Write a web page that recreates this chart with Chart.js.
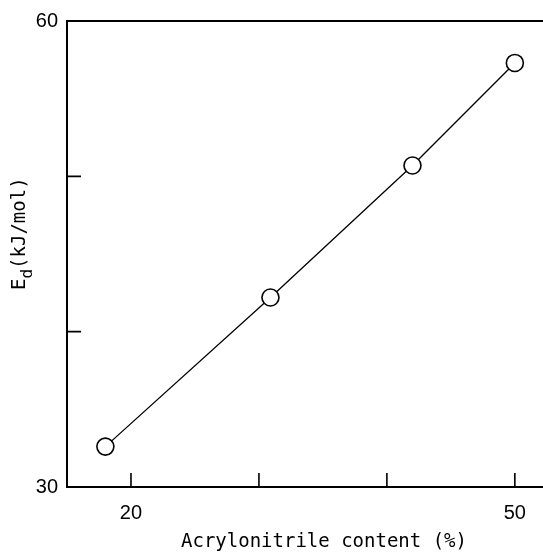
<!DOCTYPE html>
<html>
<head>
<meta charset="utf-8">
<script src="https://cdn.jsdelivr.net/npm/chart.js@4/dist/chart.umd.min.js"></script>
<style>
html,body{margin:0;padding:0;background:#fff;}
#wrap{width:543px;height:554px;}
</style>
</head>
<body>
<div id="wrap"><canvas id="c" width="543" height="554"></canvas></div>
<script>
// Data
const acrylonitrile = [18.0, 30.9, 42.0, 50.0];      // x: Acrylonitrile content (%)
const activationEnergy = [32.6, 42.2, 50.7, 57.3];    // y: Ed (kJ/mol)
const xTickValues = [20, 30, 40, 50];
const xTickLabels = [20, 50];
const yTickValues = [30, 40, 50, 60];
const yTickLabels = [30, 60];
const xTitle = 'Acrylonitrile content (%)';
const yTitleMain = 'E';
const yTitleSub = 'd';
const yTitleUnit = '(kJ/mol)';

const points = acrylonitrile.map((v, i) => ({x: v, y: activationEnergy[i]}));
const MONO = '"DejaVu Sans Mono", "Liberation Mono", monospace';

const frame = {
  id: 'frame',
  afterDraw(chart) {
    const {ctx, chartArea: a, scales: {x, y}} = chart;
    ctx.save();
    ctx.strokeStyle = '#000';
    ctx.lineWidth = 1.6;
    ctx.beginPath();
    xTickValues.forEach(v => {
      const px = x.getPixelForValue(v);
      ctx.moveTo(px, a.bottom);
      ctx.lineTo(px, a.bottom - 14);
    });
    yTickValues.forEach(v => {
      const py = y.getPixelForValue(v);
      ctx.moveTo(a.left, py);
      ctx.lineTo(a.left + 14, py);
    });
    ctx.stroke();
    ctx.lineWidth = 2;
    ctx.beginPath();
    ctx.moveTo(a.left - 1, a.top);
    ctx.lineTo(a.right, a.top);
    ctx.stroke();

    ctx.fillStyle = '#000';
    // x axis title
    ctx.font = '19px ' + MONO;
    ctx.textAlign = 'center';
    ctx.textBaseline = 'middle';
    ctx.fillText(xTitle, 324, 542);

    // y axis title with subscript
    ctx.translate(25, 290);
    ctx.rotate(-Math.PI / 2);
    ctx.textAlign = 'left';
    ctx.textBaseline = 'alphabetic';
    const big = '19px ' + MONO;
    const small = '16px ' + MONO;
    let xs = 0;
    ctx.font = big;
    ctx.fillText(yTitleMain, xs, 0);
    xs += ctx.measureText(yTitleMain).width;
    ctx.font = small;
    ctx.fillText(yTitleSub, xs, 7);
    xs += ctx.measureText(yTitleSub).width;
    ctx.font = big;
    ctx.fillText(yTitleUnit, xs, 0);
    ctx.restore();
  }
};

new Chart(document.getElementById('c'), {
  type: 'scatter',
  data: {
    datasets: [{
      data: points,
      showLine: true,
      borderColor: '#000',
      borderWidth: 1.3,
      pointRadius: 8.5,
      pointHoverRadius: 8.5,
      pointBackgroundColor: '#fff',
      pointBorderColor: '#000',
      pointBorderWidth: 1.6
    }]
  },
  options: {
    responsive: false,
    animation: false,
    events: [],
    layout: {autoPadding: false, padding: {top: 18, right: 0, left: 0, bottom: 0}},
    plugins: {legend: {display: false}, tooltip: {enabled: false}},
    scales: {
      x: {
        type: 'linear',
        min: 15,
        max: 52.2,
        afterBuildTicks: s => { s.ticks = xTickValues.map(v => ({value: v})); },
        afterFit: s => { s.height = 67; },
        grid: {display: false, drawTicks: false},
        border: {display: true, color: '#000', width: 2},
        ticks: {
          padding: 14,
          color: '#000',
          maxRotation: 0,
          font: {family: '"Liberation Sans", Arial, sans-serif', size: 20},
          callback: v => xTickLabels.includes(v) ? String(v) : ''
        },
        title: {display: false}
      },
      y: {
        type: 'linear',
        min: 30,
        max: 60,
        afterBuildTicks: s => { s.ticks = yTickValues.map(v => ({value: v})); },
        afterFit: s => { s.width = 67; },
        grid: {display: false, drawTicks: false},
        border: {display: true, color: '#000', width: 2},
        ticks: {
          padding: 9,
          color: '#000',
          font: {family: '"Liberation Sans", Arial, sans-serif', size: 20},
          callback: v => yTickLabels.includes(v) ? String(v) : ''
        }
      }
    }
  },
  plugins: [frame]
});
</script>
</body>
</html>
